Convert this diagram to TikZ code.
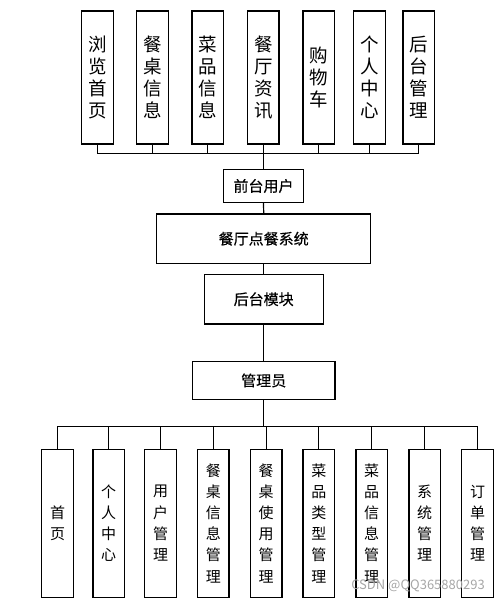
\documentclass[tikz,border=0pt]{standalone}
\usepackage{fontspec}
\setmainfont{Noto Sans CJK SC}
\newfontfamily\midfont[FakeBold=0.4]{Noto Sans CJK SC}
\newlength{\du}
\setlength{\du}{1pt}
\tikzset{
  topbox/.style={draw=black, line width=1.2\du, minimum width=31.5\du, minimum height=133\du, inner sep=0pt, align=center, font=\fontsize{18.5}{22}\selectfont},
  lowbox/.style={draw=black, line width=1.2\du, minimum width=31.5\du, minimum height=148\du, inner sep=0pt, align=center, font=\fontsize{15}{21.2}\selectfont},
  midbox/.style={draw=black, line width=1.2\du, inner sep=0pt, font=\midfont\fontsize{15}{18}\selectfont},
  bus/.style={draw=black, line width=1.2\du}
}

\begin{document}
\begin{tikzpicture}[x=1\du, y=-1\du]
\useasboundingbox (0,0) rectangle (500,601);
% front modules
\node[topbox] (t1) at (97.5,77.5) {浏\\览\\首\\页};
\node[topbox] (t2) at (152.5,77.5) {餐\\桌\\信\\息};
\node[topbox] (t3) at (207.8,77.5) {菜\\品\\信\\息};
\node[topbox] (t4) at (263.3,77.5) {餐\\厅\\资\\讯};
\node[topbox] (t5) at (318.8,77.5) {购\\物\\车};
\node[topbox] (t6) at (369.5,77.5) {个\\人\\中\\心};
\node[topbox] (t7) at (418.7,77.5) {后\\台\\管\\理};
\coordinate (fbus) at (263.5,153.3);
% middle chain
\node[midbox, minimum width=80\du, minimum height=32.3\du] (user) at (263.5,186) {前台用户};
\node[midbox, minimum width=214\du, minimum height=49.3\du] (sys) at (263.7,238.7) {餐厅点餐系统};
\node[midbox, minimum width=119\du, minimum height=49.7\du] (back) at (263.7,299.2) {后台模块};
\node[midbox, minimum width=142.5\du, minimum height=37.6\du] (admin) at (263.7,380.5) {管理员};
\coordinate (bbus) at (263.7,426.7);
% admin modules
\node[lowbox] (b1) at (57.5,523.2) {首\\页};
\node[lowbox] (b2) at (108.7,523.2) {个\\人\\中\\心};
\node[lowbox] (b3) at (160.5,523.2) {用\\户\\管\\理};
\node[lowbox] (b4) at (213.3,523.2) {餐\\桌\\信\\息\\管\\理};
\node[lowbox] (b5) at (266.2,523.2) {餐\\桌\\使\\用\\管\\理};
\node[lowbox] (b6) at (318.8,523.2) {菜\\品\\类\\型\\管\\理};
\node[lowbox] (b7) at (371.7,523.2) {菜\\品\\信\\息\\管\\理};
\node[lowbox] (b8) at (424.7,523.2) {系\\统\\管\\理};
\node[lowbox] (b9) at (477.5,523.2) {订\\单\\管\\理};
% connectors
\draw[bus] (t1.south) |- (fbus);
\draw[bus] (t2.south) |- (fbus);
\draw[bus] (t3.south) |- (fbus);
\draw[bus] (t4.south) |- (fbus);
\draw[bus] (t5.south) |- (fbus);
\draw[bus] (t6.south) |- (fbus);
\draw[bus] (t7.south) |- (fbus);
\draw[bus] (fbus) -- (user.north);
\draw[bus] (user.south) -- (sys.north);
\draw[bus] (sys.south) -- (back.north);
\draw[bus] (back.south) -- (admin.north);
\draw[bus] (admin.south) -- (bbus);
\draw[bus] (b1.north) |- (bbus);
\draw[bus] (b2.north) |- (bbus);
\draw[bus] (b3.north) |- (bbus);
\draw[bus] (b4.north) |- (bbus);
\draw[bus] (b5.north) |- (bbus);
\draw[bus] (b6.north) |- (bbus);
\draw[bus] (b7.north) |- (bbus);
\draw[bus] (b8.north) |- (bbus);
\draw[bus] (b9.north) |- (bbus);
% watermark
\node[text=black!35, font=\fontsize{13}{15}\selectfont, inner sep=0pt] (mark) at (418,585.5) {CSDN @QQ365880293};
\end{tikzpicture}
\end{document}
